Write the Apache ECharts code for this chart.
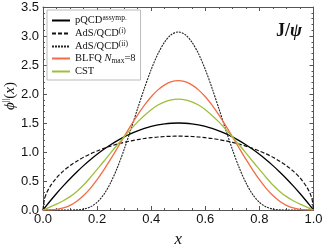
<!DOCTYPE html>
<html><head><meta charset="utf-8">
<script src="https://cdn.jsdelivr.net/npm/echarts@6/dist/echarts.min.js"></script>
<style>html,body{margin:0;padding:0;background:#fff}#c{width:324px;height:246px}</style>
</head><body><div id="c"></div>
<script>
const xs = [0,0.025,0.05,0.075,0.1,0.125,0.15,0.175,0.2,0.225,0.25,0.275,0.3,0.325,0.35,0.375,0.4,0.425,0.45,0.475,0.5,0.525,0.55,0.575,0.6,0.625,0.65,0.675,0.7,0.725,0.75,0.775,0.8,0.825,0.85,0.875,0.9,0.925,0.95,0.975,1];
const xsAdS1 = [0,0.005,0.0125,0.025,0.05,0.075,0.1,0.125,0.15,0.175,0.2,0.225,0.25,0.275,0.3,0.325,0.35,0.375,0.4,0.425,0.45,0.475,0.5,0.525,0.55,0.575,0.6,0.625,0.65,0.675,0.7,0.725,0.75,0.775,0.8,0.825,0.85,0.875,0.9,0.925,0.95,0.975,0.9875,0.995,1];
const pqcd = [0,0.146,0.285,0.416,0.54,0.656,0.765,0.866,0.96,1.046,1.125,1.196,1.26,1.316,1.365,1.406,1.44,1.466,1.485,1.496,1.5,1.496,1.485,1.466,1.44,1.406,1.365,1.316,1.26,1.196,1.125,1.046,0.96,0.866,0.765,0.656,0.54,0.416,0.285,0.146,0];
const ads1 = [0,0.18,0.283,0.397,0.555,0.671,0.764,0.842,0.909,0.967,1.018,1.063,1.102,1.137,1.167,1.193,1.214,1.233,1.247,1.259,1.267,1.271,1.273,1.271,1.267,1.259,1.247,1.233,1.214,1.193,1.167,1.137,1.102,1.063,1.018,0.967,0.909,0.842,0.764,0.671,0.555,0.397,0.283,0.18,0];
const ads2 = [0,0,0,0,0,0.003,0.015,0.052,0.132,0.269,0.47,0.732,1.045,1.392,1.751,2.101,2.422,2.693,2.898,3.027,3.07,3.027,2.898,2.693,2.422,2.101,1.751,1.392,1.045,0.732,0.47,0.269,0.132,0.052,0.015,0.003,0,0,0,0,0];
const blfq = [0,0.001,0.01,0.035,0.081,0.152,0.25,0.374,0.523,0.692,0.876,1.069,1.265,1.458,1.641,1.808,1.953,2.071,2.158,2.212,2.23,2.212,2.158,2.071,1.953,1.808,1.641,1.458,1.265,1.069,0.876,0.692,0.523,0.374,0.25,0.152,0.081,0.035,0.01,0.001,0];
const cst = [0,0.05,0.1,0.16,0.23,0.32,0.43,0.56,0.7,0.84,0.985,1.125,1.26,1.395,1.52,1.63,1.73,1.81,1.866,1.9,1.91,1.9,1.866,1.81,1.73,1.63,1.52,1.395,1.26,1.125,0.985,0.84,0.7,0.56,0.43,0.32,0.23,0.16,0.1,0.05,0];
const xTickLabels = ['0.0','0.2','0.4','0.6','0.8','1.0'];
const yTickLabels = ['0.0','0.5','1.0','1.5','2.0','2.5','3.0','3.5'];
const seriesNames = ['pQCD','AdS1','AdS2','BLFQ','CST'];
const legendLabels = {
  pQCD: '{n|pQCD}{sup|assymp.}',
  AdS1: '{n|AdS/QCD}{sup|(i)}',
  AdS2: '{n|AdS/QCD}{sup|(ii)}',
  BLFQ: '{n|BLFQ }{it|N}{sub|max}{n|=8}',
  CST: '{n|CST}'
};

function pairs(x, y) { return x.map((v, i) => [v, y[i]]); }

const frame = '#555';
const serif = 'Liberation Serif';
const sans = 'Liberation Sans';

function xAx(pos, labels) {
  return {
    type: 'value', min: 0, max: 1, interval: 0.2, position: pos,
    axisLine: { show: true, onZero: false, lineStyle: { color: frame, width: 1 } },
    axisTick: { show: true, inside: true, length: 4, lineStyle: { color: frame } },
    minorTick: { show: true, splitNumber: 4, length: 2, lineStyle: { color: frame } },
    splitLine: { show: false }, minorSplitLine: { show: false },
    axisLabel: labels ? { show: true, margin: 3, color: '#111', fontSize: 13, fontFamily: sans,
      formatter: (v, i) => xTickLabels[i] } : { show: false },
    name: labels ? 'x' : '', nameLocation: 'middle', nameGap: 17,
    nameTextStyle: { fontFamily: serif, fontStyle: 'italic', fontSize: 17, color: '#111' }
  };
}
function yAx(pos, labels) {
  return {
    type: 'value', min: 0, max: 3.5, interval: 0.5, position: pos,
    axisLine: { show: true, onZero: false, lineStyle: { color: frame, width: 1 } },
    axisTick: { show: true, inside: true, length: 4, lineStyle: { color: frame } },
    minorTick: { show: true, splitNumber: 5, length: 2, lineStyle: { color: frame } },
    splitLine: { show: false }, minorSplitLine: { show: false },
    axisLabel: labels ? { show: true, margin: 4, color: '#111', fontSize: 13, fontFamily: sans,
      formatter: (v, i) => yTickLabels[i] } : { show: false }
  };
}

function line(name, x, y, color, type, width) {
  return {
    name, type: 'line', xAxisIndex: 0, yAxisIndex: 0, data: pairs(x, y),
    symbol: 'none', showSymbol: false, smooth: 0.3, clip: true,
    lineStyle: { color, width, type }, itemStyle: { color }
  };
}

const chart = echarts.init(document.getElementById('c'), null, { renderer: 'canvas' });
chart.setOption({
  animation: false,
  backgroundColor: '#fff',
  grid: { left: 43, right: 10.5, top: 7, bottom: 36, containLabel: false, outerBoundsMode: 'none' },
  title: {
    text: '{b|J/}{p|ψ}', left: 271, top: 17,
    textStyle: { rich: {
      b: { fontFamily: serif, fontWeight: 'bold', fontSize: 18, color: '#111' },
      p: { fontFamily: serif, fontWeight: 'bold', fontStyle: 'italic', fontSize: 18, color: '#111' }
    } }
  },
  legend: {
    orient: 'vertical', left: 47, top: 10, padding: [4, 5, 3, 4], itemGap: 1,
    itemWidth: 18, itemHeight: 10, backgroundColor: '#fff', borderColor: '#bbb', borderWidth: 1,
    itemStyle: { opacity: 0, color: 'transparent', borderWidth: 0 },
    data: seriesNames, formatter: n => legendLabels[n],
    textStyle: { fontFamily: serif, fontSize: 10.5, color: '#111', rich: {
      n: { fontFamily: serif, fontSize: 10.5, lineHeight: 13, color: '#111' },
      it: { fontFamily: serif, fontStyle: 'italic', fontSize: 10.5, lineHeight: 13, color: '#111' },
      sup: { fontFamily: serif, fontSize: 7.5, lineHeight: 7, verticalAlign: 'top', color: '#111' },
      sub: { fontFamily: serif, fontSize: 7.5, lineHeight: 7, verticalAlign: 'bottom', color: '#111' }
    } }
  },
  graphic: [{
    type: 'text', x: 10, y: 96, rotation: Math.PI / 2,
    style: {
      text: '{i|ϕ}{s|||}{n|(}{i|x}{n|)}', align: 'center', verticalAlign: 'middle', fill: '#111',
      rich: {
        i: { fontFamily: 'Liberation Serif, DejaVu Serif', fontStyle: 'italic', fontSize: 15, lineHeight: 17 },
        n: { fontFamily: 'Liberation Serif', fontSize: 15, lineHeight: 17 },
        s: { fontFamily: 'Liberation Serif', fontSize: 9, lineHeight: 9, verticalAlign: 'top' }
      }
    }
  }],
  xAxis: [xAx('bottom', true), xAx('top', false)],
  yAxis: [yAx('left', true), yAx('right', false)],
  series: [
    line('pQCD', xs, pqcd, '#000', 'solid', 1.3),
    line('AdS1', xsAdS1, ads1, '#111', [4, 2], 1.2),
    line('AdS2', xs, ads2, '#222', [2, 1], 1.1),
    line('BLFQ', xs, blfq, '#f36c45', 'solid', 1.3),
    line('CST', xs, cst, '#9dbf3c', 'solid', 1.3)
  ]
});
</script></body></html>
